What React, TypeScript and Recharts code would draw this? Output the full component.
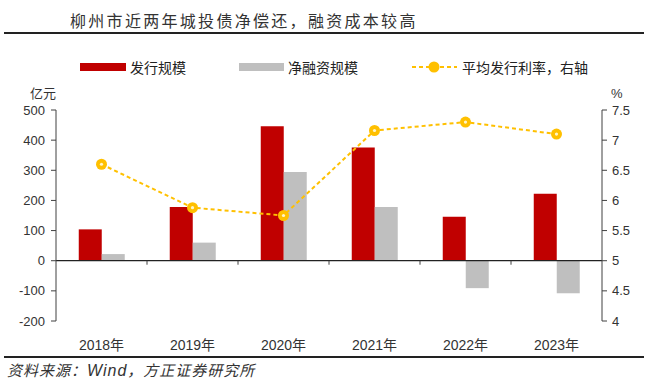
import React from "react";
import {
  ComposedChart,
  Bar,
  Line,
  XAxis,
  YAxis,
  ReferenceLine,
} from "recharts";

const years = ["2018年", "2019年", "2020年", "2021年", "2022年", "2023年"];
const issuance = [104, 178, 446, 376, 146, 222];
const netFinancing = [22, 60, 294, 178, -91, -108];
const avgRate = [6.6, 5.88, 5.75, 7.16, 7.3, 7.1];

const leftTicks = [-200, -100, 0, 100, 200, 300, 400, 500];
const rightTicks = [4, 4.5, 5, 5.5, 6, 6.5, 7, 7.5];

const RED = "#C00000";
const GRAY = "#BFBFBF";
const GOLD = "#FFC000";
const AXIS = "#404040";
const SANS = '"Liberation Sans", Arial, "Noto Sans CJK SC", sans-serif';
const CJK = '"Noto Sans CJK SC", sans-serif';

const data = years.map((year, i) => ({
  year,
  issuance: issuance[i],
  net: netFinancing[i],
  rate: avgRate[i],
}));

function RateDot(props: any) {
  const { cx, cy } = props;
  if (cx == null || cy == null) return null;
  return (
    <g>
      <circle cx={cx} cy={cy} r={5.5} fill={GOLD} />
      <circle cx={cx} cy={cy} r={1.6} fill="#fff5cc" />
    </g>
  );
}

// zero line with little ticks at the category borders
function ZeroLine(props: any) {
  const { x1, y1, x2, y2 } = props;
  if (x1 == null) return null;
  const step = (x2 - x1) / years.length;
  const marks = [];
  for (let i = 1; i < years.length; i++) {
    const x = x1 + step * i;
    marks.push(<line key={i} x1={x} y1={y1} x2={x} y2={y1 + 4} stroke={AXIS} strokeWidth={1} />);
  }
  return (
    <g>
      <line x1={x1} y1={y1} x2={x2} y2={y2} stroke="#222" strokeWidth={1.2} />
      {marks}
    </g>
  );
}

const legendText: React.CSSProperties = {
  position: "absolute",
  top: 58,
  fontSize: 14,
  color: "#222",
  fontFamily: CJK,
  lineHeight: "18px",
};

export default function App() {
  return (
    <div
      style={{
        position: "absolute",
        left: 0,
        top: 0,
        width: 648,
        height: 388,
        background: "#fff",
        overflow: "hidden",
        fontFamily: SANS,
      }}
    >
      <div
        style={{
          position: "absolute",
          left: 70,
          top: 9,
          fontSize: 16,
          lineHeight: "22px",
          color: "#333",
          fontFamily: CJK,
          letterSpacing: 2.3,
        }}
      >
        柳州市近两年城投债净偿还，融资成本较高
      </div>
      <div style={{ position: "absolute", left: 4, top: 32, width: 640, height: 2, background: "#222" }} />

      {/* legend */}
      <div style={{ position: "absolute", left: 80, top: 63, width: 46, height: 8, background: RED }} />
      <div style={{ ...legendText, left: 130 }}>发行规模</div>
      <div style={{ position: "absolute", left: 239, top: 63, width: 45, height: 8, background: GRAY }} />
      <div style={{ ...legendText, left: 288 }}>净融资规模</div>
      <svg style={{ position: "absolute", left: 410, top: 59 }} width={50} height={16}>
        <line x1={2} y1={8} x2={47} y2={8} stroke={GOLD} strokeWidth={2} strokeDasharray="4 3" />
        <circle cx={24} cy={8} r={5.5} fill={GOLD} />
      </svg>
      <div style={{ ...legendText, left: 462 }}>平均发行利率，右轴</div>

      <div style={{ position: "absolute", left: 30, top: 85, fontSize: 13, lineHeight: "16px", color: "#333", fontFamily: CJK }}>
        亿元
      </div>
      <div style={{ position: "absolute", left: 611, top: 86, fontSize: 13, lineHeight: "16px", color: "#333" }}>%</div>

      <div style={{ position: "absolute", left: 0, top: 0 }}>
        <ComposedChart
          width={648}
          height={388}
          data={data}
          margin={{ top: 110, right: 6, left: 6, bottom: 31 }}
          barCategoryGap="25%"
          barGap={0}
        >
          <XAxis
            dataKey="year"
            axisLine={false}
            tickLine={false}
            height={36}
            tickMargin={13}
            tick={{ fontSize: 14, fill: "#333", fontFamily: SANS }}
            interval={0}
          />
          <YAxis
            yAxisId="left"
            width={50}
            domain={[-200, 500]}
            ticks={leftTicks}
            allowDataOverflow
            axisLine={{ stroke: AXIS }}
            tickLine={{ stroke: AXIS }}
            tickSize={5}
            tickMargin={6}
            tick={{ fontSize: 13, fill: "#333", fontFamily: SANS }}
          />
          <YAxis
            yAxisId="right"
            orientation="right"
            width={40}
            domain={[4, 7.5]}
            ticks={rightTicks}
            allowDataOverflow
            axisLine={{ stroke: AXIS }}
            tickLine={{ stroke: AXIS }}
            tickSize={5}
            tickMargin={5}
            tick={{ fontSize: 13, fill: "#333", fontFamily: SANS }}
          />
          <Bar yAxisId="left" dataKey="issuance" fill={RED} isAnimationActive={false} />
          <Bar yAxisId="left" dataKey="net" fill={GRAY} isAnimationActive={false} />
          <ReferenceLine yAxisId="left" y={0} shape={<ZeroLine />} />
          <Line
            yAxisId="right"
            dataKey="rate"
            stroke={GOLD}
            strokeWidth={2}
            strokeDasharray="4 3"
            dot={<RateDot />}
            activeDot={false}
            isAnimationActive={false}
          />
        </ComposedChart>
      </div>

      <div style={{ position: "absolute", left: 4, top: 356, width: 640, height: 2, background: "#222" }} />
      <div
        style={{
          position: "absolute",
          left: 7,
          top: 361,
          fontSize: 15,
          lineHeight: "18px",
          fontStyle: "italic",
          color: "#333",
          fontFamily: CJK,
          letterSpacing: 1,
        }}
      >
        资料来源：<span style={{ fontFamily: SANS, fontSize: 16 }}>Wind</span>，方正证券研究所
      </div>
    </div>
  );
}
